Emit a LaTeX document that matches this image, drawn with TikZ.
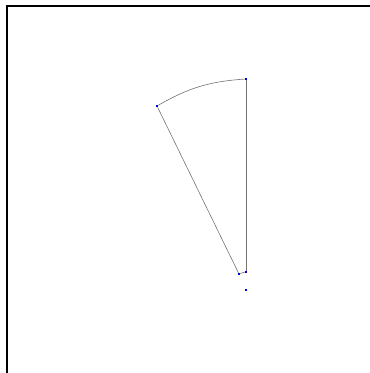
\documentclass[tikz,border=0pt]{standalone}
\usepackage{tikz}
\usetikzlibrary{positioning}

\begin{document}
\begin{tikzpicture}[x=1pt, y=1pt,
    pt/.style={fill=blue!85!black, inner sep=0pt, minimum size=2pt},
    edge/.style={draw=black!55, line width=0.6pt}]
    \useasboundingbox (0,0) rectangle (370,373);
    \draw[line width=2pt] (7,0) -- (7,367) -- (370,367);
    \node[pt] (top) at (246,294) {};
    \node[pt] (left) at (157,267) {};
    \node[pt] (inl) at (239,99) {};
    \node[pt] (inr) at (246,101) {};
    \node[pt] (ctr) at (246,83) {};
    \draw[edge] (left) to[bend left=13] (top);
    \draw[edge] (top) -- (inr);
    \draw[edge] (left) -- (inl);
    \draw[edge] (inl) to[bend left=10] (inr);
  \end{tikzpicture}
\end{document}
